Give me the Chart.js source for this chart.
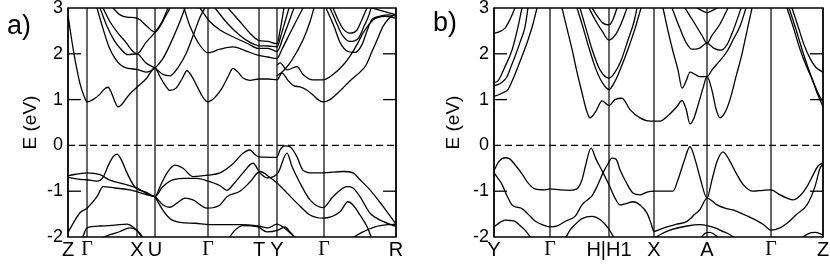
<!DOCTYPE html>
<html><head><meta charset="utf-8">
<script src="https://cdn.jsdelivr.net/npm/chart.js@4/dist/chart.umd.min.js"></script>
<style>
html,body{margin:0;padding:0;background:#fff;width:830px;height:264px;overflow:hidden;}
.wrap{position:absolute;top:0;width:415px;height:264px;}
#wa{left:0;} #wb{left:415px;}
.lab{position:absolute;font-family:"Liberation Sans",Arial,sans-serif;font-size:27px;line-height:27px;color:#000;}
</style></head><body>
<div class="wrap" id="wa"><canvas id="ca" width="415" height="264"></canvas></div>
<div class="wrap" id="wb"><canvas id="cb" width="415" height="264"></canvas></div>
<div class="lab" style="left:7px;top:12px;">a)</div>
<div class="lab" style="left:433px;top:9px;">b)</div>
<script>
// ---------- Panel a: k-path ----------
const kPosA = [0, 19, 69, 87, 140, 191, 209, 256, 328];
const kLabA = ['Z', 'Γ', 'X', 'U', 'Γ', 'T', 'Y', 'Γ', 'R'];
// ---------- Panel b: k-path ----------
const kPosB = [0, 56, 115, 160, 213, 277, 329];
const kLabB = ['Y', 'Γ', 'H|H1', 'X', 'A', 'Γ', 'Z'];
const eTicks = [-2, -1, 0, 1, 2, 3];

// ---------- Panel a bands [k, E(eV)] ----------
const a_C1 = [[0,2.85],[3,2.4],[6,2.0],[9,1.65],[12,1.35],[16,1.08],[19,0.95],[25,1.0],[32,1.12],[36,1.22],[40,1.27],[44,1.12],[47,0.95],[50,0.84],[54,0.9],[59,1.05],[64,1.17],[69,1.27],[78,1.45],[87,1.69],[92,1.5],[97,1.32],[102,1.2],[108,1.25],[114,1.45],[119,1.63],[124,1.5],[130,1.25],[135,1.05],[140,0.95],[147,1.05],[154,1.25],[160,1.5],[165,1.68],[170,1.6],[175,1.47],[182,1.42],[191,1.45],[200,1.45],[209,1.43],[214,1.58],[220,1.42],[226,1.3],[232,1.28],[238,1.22],[245,1.1],[250,1.0],[255,0.95],[262,1.0],[270,1.15],[277,1.3],[284,1.45],[292,1.6],[298,1.75],[304,2.05],[310,2.35],[315,2.6],[320,2.75],[324,2.82],[328,2.88]];
const a_Ca = [[29,3.0],[35,2.55],[41,2.15],[47,1.9],[53,1.75],[60,1.68],[69,1.66],[78,1.6],[87,1.69],[95,1.9],[102,2.2],[110,2.6],[117,3.0]];
const a_Cb = [[32,3.0],[39,2.6],[46,2.3],[53,2.1],[60,1.98],[69,2.0],[78,1.8],[87,1.69],[95,1.55],[102,1.52],[110,1.7],[118,2.0],[126,2.45],[132,2.8],[137,3.0]];
const a_Cc = [[35,3.0],[42,2.7],[50,2.45],[58,2.25],[63,2.1],[69,2.0],[78,2.25],[87,2.47],[94,2.7],[100,3.0]];
const a_Cd = [[45,3.0],[52,2.85],[59,2.8],[69,2.78],[79,2.6],[87,2.47],[92,2.6],[97,2.8],[102,3.0]];
const a_C3 = [[116,3.0],[122,2.6],[130,2.25],[140,2.02],[152,2.1],[165,2.15],[177,2.07],[190,1.97],[200,1.93],[209,1.9],[214,2.1],[222,2.45],[229,2.75],[235,3.0]];
const a_C4 = [[132,3.0],[142,2.7],[152,2.52],[167,2.35],[180,2.22],[190,2.12],[200,2.12],[209,2.05],[215,2.35],[221,2.7],[226,3.0]];
const a_C5 = [[147,3.0],[160,2.65],[172,2.4],[182,2.25],[190,2.18],[200,2.17],[209,2.15],[213,2.4],[217,2.7],[221,3.0]];
const a_C6 = [[160,3.0],[172,2.7],[182,2.45],[190,2.3],[200,2.27],[209,2.22],[212,2.5],[216,3.0]];
const a_Cf = [[209,1.52],[215,1.62],[222,1.8],[229,2.05],[236,2.35],[242,2.7],[246,3.0]];
const a_C2r = [[209,1.75],[212,1.8],[219,1.65],[229,1.72],[235,1.55],[245,1.43],[255,1.43],[265,1.55],[275,1.75],[282,1.95],[289,2.2],[295,2.45],[305,2.74],[317,2.82],[328,2.78]];
const a_U1 = [[265,3.0],[270,2.75],[275,2.55],[282,2.45],[289,2.52],[294,2.75],[299,3.0]];
const a_U2 = [[262,3.0],[268,2.7],[274,2.42],[282,2.27],[290,2.33],[296,2.6],[301,2.85],[303,3.0]];
const a_U3 = [[258,3.0],[266,2.6],[272,2.25],[280,2.05],[287,2.03],[294,2.2],[299,2.5],[304,2.75],[312,2.82],[320,2.85],[328,2.82]];
const a_Ce = [[304,3.0],[312,2.95],[320,2.9],[328,2.85]];
const a_VA = [[0,-0.66],[19,-0.6],[32,-0.64],[42,-0.76],[59,-0.86],[69,-0.93],[87,-1.12],[92,-0.9],[99,-0.6],[107,-0.43],[115,-0.5],[125,-0.68],[140,-0.65],[152,-0.6],[165,-0.4],[175,-0.17],[182,-0.1],[187,-0.2],[191,-0.25],[209,-0.26],[212,-0.1],[217,-0.01],[222,-0.03],[229,-0.25],[235,-0.54],[245,-0.6],[255,-0.6],[275,-0.57],[285,-0.6],[292,-0.75],[302,-0.97],[315,-1.33],[328,-1.72]];
const a_VB = [[0,-0.7],[12,-0.74],[19,-0.75],[29,-0.78],[35,-0.7],[40,-0.45],[45,-0.25],[49,-0.19],[53,-0.3],[59,-0.6],[65,-0.85],[69,-0.95],[78,-1.02],[87,-1.12],[94,-0.92],[102,-0.78],[115,-0.72],[129,-0.72],[140,-0.78],[152,-0.88],[159,-0.98],[165,-0.86],[175,-0.6],[185,-0.39],[192,-0.6],[199,-0.71],[210,-0.6],[219,-0.17],[224,-0.46],[232,-0.82],[242,-1.19],[255,-1.36],[265,-1.12],[279,-0.9],[285,-0.93],[292,-1.12],[302,-1.48],[315,-1.66],[328,-1.77]];
const a_VC = [[0,-1.9],[12,-1.47],[19,-1.37],[29,-1.12],[35,-0.9],[47,-0.93],[62,-0.97],[79,-1.08],[87,-1.12],[95,-1.3],[102,-1.35],[109,-1.26],[117,-1.15],[125,-1.19],[139,-1.37],[152,-1.3],[159,-1.12],[172,-1.0],[182,-0.8],[192,-0.57],[202,-0.7],[209,-0.82],[229,-1.26],[242,-1.52],[255,-1.59],[272,-1.45],[280,-1.23],[285,-1.3],[292,-1.52],[299,-1.77],[304,-2.05]];
const a_VD = [[87,-1.12],[95,-1.42],[102,-1.6],[112,-1.68],[127,-1.7],[142,-1.73],[172,-1.73],[190,-1.76],[200,-1.8],[209,-1.72],[215,-1.78],[224,-1.95],[229,-2.05]];
const a_VE = [[14,-2.05],[19,-1.8],[32,-1.76],[47,-1.74],[59,-1.72],[65,-1.78],[72,-1.92],[76,-2.05]];
const a_VF = [[30,-2.05],[42,-1.95],[52,-1.88],[62,-1.8],[69,-1.86],[75,-2.05]];
const a_VG = [[160,-2.05],[167,-1.85],[175,-1.75],[190,-1.78],[199,-1.89],[210,-1.85],[217,-1.78],[222,-1.89],[229,-2.05]];
const a_VH = [[282,-2.05],[294,-1.9],[307,-1.78],[320,-1.73],[328,-1.72]];

// ---------- Panel b bands [k, E(eV)] ----------
const b_B1 = [[0,1.07],[4,1.1],[9,1.15],[14,1.22],[19,1.45],[24,1.72],[29,2.0],[34,2.3],[39,2.65],[43,3.0]];
const b_B2 = [[0,1.3],[3,1.32],[8,1.38],[13,1.5],[17,1.72],[21,1.94],[26,2.25],[31,2.59],[34,3.0]];
const b_B3 = [[0,1.38],[3,1.39],[11,1.72],[18,2.08],[24,2.59],[28,3.0]];
const b_B4 = [[0,2.45],[5,2.48],[11,2.56],[16,2.75],[21,3.0]];
const b_L1 = [[68,3.0],[73,2.55],[78,2.1],[83,1.6],[88,1.15],[92,0.8],[96,0.6],[102,0.75],[108,0.97],[115,0.87],[121,1.0],[128,1.03],[136,0.78],[146,0.6],[156,0.53],[166,0.53],[174,0.65],[183,0.85],[188,0.98],[192,0.8],[196,0.47],[200,0.6],[205,0.95],[209,1.25],[213,1.5],[218,1.2],[222,0.8],[226,0.6],[231,0.72],[236,1.0],[242,1.5],[248,2.0],[253,2.5],[258,3.0]];
const b_L2 = [[169,3.0],[174,2.5],[179,2.05],[184,1.65],[188,1.25],[192,1.4],[196,1.6],[201,1.55],[206,1.5],[213,1.5],[218,1.65],[226,1.85],[233,2.05],[239,2.3],[246,2.6],[252,3.0]];
const b_L3 = [[178,3.0],[186,2.55],[192,2.25],[198,2.1],[205,2.12],[213,2.23],[220,2.12],[227,2.08],[233,2.2],[239,2.5],[244,2.8],[247,3.0]];
const b_L4 = [[191,3.0],[201,2.65],[208,2.4],[213,2.23],[218,2.4],[226,2.65],[234,3.0]];
const b_L5 = [[203,3.0],[209,2.93],[213,2.9],[217,2.93],[223,3.0]];
const b_H1 = [[83,3.0],[88,2.65],[94,2.2],[101,1.72],[108,1.38],[115,1.22],[121,1.4],[127,1.7],[134,2.1],[141,2.55],[147,3.0]];
const b_H2 = [[86,3.0],[92,2.55],[98,2.1],[106,1.65],[115,1.47],[121,1.6],[127,1.85],[134,2.3],[140,2.7],[143,3.0]];
const b_H3 = [[98,3.0],[104,2.8],[109,2.67],[115,2.63],[119,2.75],[123,3.0]];
const b_H4 = [[95,3.0],[101,2.75],[108,2.5],[115,2.3],[121,2.4],[127,2.65],[133,3.0]];
const b_Z1 = [[293,3.0],[299,2.6],[306,2.1],[312,1.75],[318,1.45],[323,1.15],[329,0.85]];
const b_Z2 = [[295,3.0],[301,2.6],[308,2.1],[314,1.7],[320,1.35],[325,1.1],[329,0.95]];
const b_Z3 = [[298,3.0],[304,2.6],[310,2.2],[316,1.9],[322,1.7],[329,1.6]];
const b_V1 = [[0,-0.55],[5,-0.35],[11,-0.27],[16,-0.3],[22,-0.45],[28,-0.62],[34,-0.82],[41,-0.95],[51,-0.97],[56,-0.95],[66,-0.97],[76,-0.98],[83,-0.95],[88,-0.75],[92,-0.4],[97,-0.06],[102,-0.3],[108,-0.55],[115,-0.86],[121,-1.15],[126,-1.3],[132,-1.27],[139,-1.23],[146,-1.3],[153,-1.48],[157,-1.7],[160,-1.88],[164,-1.85],[173,-1.78],[183,-1.72],[193,-1.66],[201,-1.5],[206,-1.4],[213,-1.15],[223,-1.3],[231,-1.37],[239,-1.41],[249,-1.5],[259,-1.6],[269,-1.72],[277,-1.85],[286,-1.8],[293,-1.7],[303,-1.5],[313,-1.3],[321,-0.9],[326,-0.5],[329,-0.4]];
const b_V2 = [[0,-0.6],[4,-0.72],[8,-0.85],[13,-1.1],[18,-1.3],[23,-1.35],[28,-1.38],[34,-1.5],[41,-1.65],[48,-1.73],[56,-1.78],[64,-1.75],[72,-1.65],[81,-1.55],[88,-1.3],[94,-1.18],[98,-1.1],[103,-0.9],[109,-0.6],[114,-0.4],[118,-0.28],[122,-0.3],[126,-0.53],[132,-0.8],[139,-1.04],[146,-1.08],[153,-1.02],[160,-1.0],[171,-1.0],[179,-1.0],[184,-0.75],[190,-0.35],[196,-0.03],[201,-0.3],[206,-0.7],[213,-1.15],[218,-0.75],[223,-0.35],[229,-0.14],[236,-0.35],[242,-0.6],[249,-0.85],[259,-1.0],[269,-0.98],[277,-0.97],[286,-1.08],[293,-1.15],[299,-1.19],[306,-1.1],[313,-0.9],[319,-0.65],[324,-0.45],[329,-0.38]];
const b_V3 = [[0,-1.78],[6,-1.68],[11,-1.63],[16,-1.64],[21,-1.66],[26,-1.75],[31,-1.85],[38,-2.05]];
const b_V4 = [[71,-2.05],[76,-1.85],[81,-1.73],[88,-1.6],[98,-1.55],[106,-1.62],[114,-1.8],[121,-2.05]];
const b_V5 = [[158,-2.05],[166,-1.95],[176,-1.85],[193,-1.76],[206,-1.73],[213,-1.75],[221,-1.8],[228,-1.87],[236,-1.95],[243,-2.05]];
const b_V6 = [[206,-2.05],[211,-1.92],[216,-1.9],[222,-1.97],[226,-2.05]];
const b_V7 = [[306,-2.05],[314,-1.93],[321,-1.9],[329,-1.95]];

const bandsA = [a_C1,a_Ca,a_Cb,a_Cc,a_Cd,a_C3,a_C4,a_C5,a_C6,a_Cf,a_C2r,a_U1,a_U2,a_U3,a_Ce,a_VA,a_VB,a_VC,a_VD,a_VE,a_VF,a_VG,a_VH];
const bandsB = [b_B1,b_B2,b_B3,b_B4,b_L1,b_L2,b_L3,b_L4,b_L5,b_H1,b_H2,b_H3,b_H4,b_Z1,b_Z2,b_Z3,b_V1,b_V2,b_V3,b_V4,b_V5,b_V6,b_V7];

const SANS = '"Liberation Sans", Arial, sans-serif';
const SERIF = '"Liberation Serif", "Times New Roman", serif';

const framePlugin = {
  id: 'bandFrame',
  beforeDatasetsDraw(chart) {
    const {ctx, chartArea: ca, scales: {x, y}} = chart;
    const kp = chart.options.plugins.bandFrame.kpos;
    ctx.save();
    ctx.strokeStyle = '#000';
    ctx.lineWidth = 1.2;
    kp.forEach(v => {
      const px = x.getPixelForValue(v);
      ctx.beginPath(); ctx.moveTo(px, ca.top); ctx.lineTo(px, ca.bottom); ctx.stroke();
    });
    const y0 = y.getPixelForValue(0);
    ctx.setLineDash([7, 4]);
    ctx.beginPath(); ctx.moveTo(ca.left, y0); ctx.lineTo(ca.right, y0); ctx.stroke();
    ctx.restore();
  },
  afterDatasetsDraw(chart) {
    const {ctx, chartArea: ca, scales: {y}} = chart;
    ctx.save();
    ctx.strokeStyle = '#000';
    ctx.lineWidth = 1.3;
    y.ticks.forEach(t => {
      if (t.value <= -2 || t.value >= 3 || t.value === 0) return;
      const py = y.getPixelForValue(t.value);
      ctx.beginPath(); ctx.moveTo(ca.left, py); ctx.lineTo(ca.left + 13, py); ctx.stroke();
      ctx.beginPath(); ctx.moveTo(ca.right, py); ctx.lineTo(ca.right - 13, py); ctx.stroke();
    });
    ctx.lineWidth = 1.5;
    ctx.strokeRect(ca.left, ca.top, ca.right - ca.left, ca.bottom - ca.top);
    ctx.restore();
  }
};

function makeChart(id, bands, kpos, klab, yWidth, padRight, titlePad) {
  const datasets = bands.map(b => ({
    data: b, borderColor: '#000', borderWidth: 1.3, pointRadius: 0,
    cubicInterpolationMode: 'monotone', fill: false
  }));
  return new Chart(document.getElementById(id), {
    type: 'line',
    data: { datasets },
    options: {
      responsive: false, animation: false, events: [],
      layout: { padding: { top: 8, right: padRight, left: 0, bottom: 0 } },
      plugins: { legend: { display: false }, tooltip: { enabled: false }, bandFrame: { kpos } },
      scales: {
        x: {
          type: 'linear', min: kpos[0], max: kpos[kpos.length - 1],
          grid: { display: false, drawTicks: false }, border: { display: false },
          afterBuildTicks: s => { s.ticks = kpos.map(v => ({ value: v })); },
          afterFit: s => { s.height = 27; s.paddingLeft = 0; s.paddingRight = 0; },
          ticks: {
            autoSkip: false, maxRotation: 0, padding: 1, color: '#000',
            callback: (v, i) => klab[i],
            font: c => ({ family: klab[c.index] === 'Γ' ? SERIF : SANS, size: 20 })
          }
        },
        y: {
          type: 'linear', min: -2, max: 3,
          grid: { display: false, drawTicks: false }, border: { display: false },
          afterBuildTicks: s => { s.ticks = eTicks.map(v => ({ value: v })); },
          afterFit: s => { s.width = yWidth; s.paddingTop = 0; s.paddingBottom = 0; },
          ticks: { padding: 5, color: '#000', callback: v => String(v), font: { family: SANS, size: 18 } },
          title: { display: true, text: 'E (eV)', color: '#000', font: { family: SANS, size: 19 }, padding: { top: titlePad, bottom: 0 } }
        }
      }
    },
    plugins: [framePlugin]
  });
}
makeChart('ca', bandsA, kPosA, kLabA, 68, 19, 19);
makeChart('cb', bandsB, kPosB, kLabB, 79, 7, 27);
</script>
</body></html>
